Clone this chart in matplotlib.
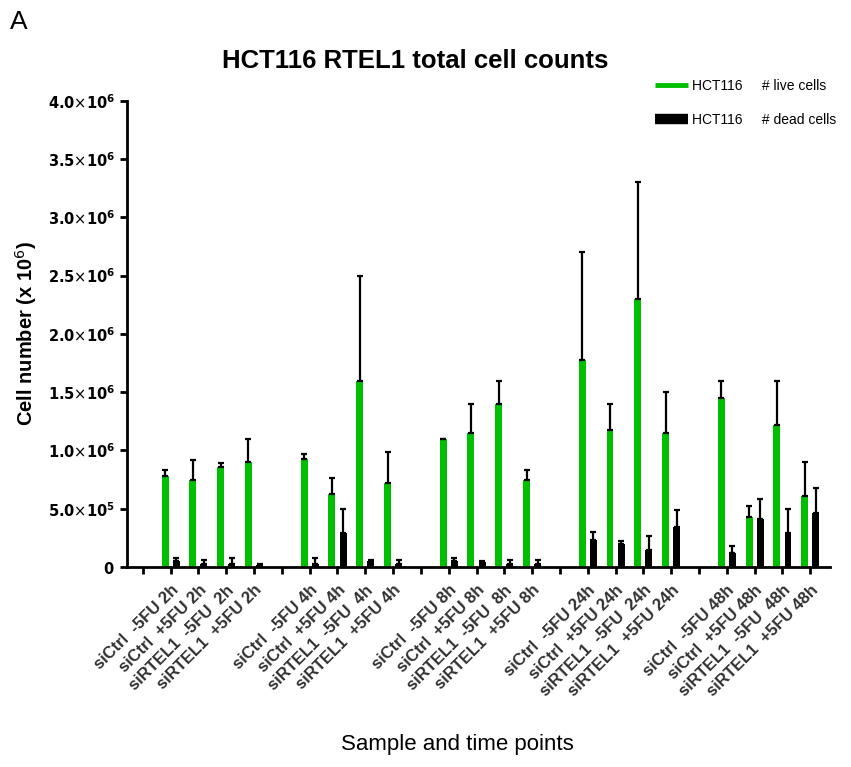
import numpy as np
import matplotlib
matplotlib.use("Agg")
from matplotlib import pyplot as plt
from matplotlib.ticker import FuncFormatter
from matplotlib.lines import Line2D

plt.rcParams['font.family'] = ['Liberation Sans', 'DejaVu Sans']

# samples, one blank slot before every time point
times = ["2h", "4h", "8h", "24h", "48h"]
samples = ["siCtrl  -5FU ", "siCtrl  +5FU ", "siRTEL1  -5FU  ", "siRTEL1  +5FU "]

# live cells (x 10^6) and upper SD, in sample order for each time point
live = [0.78, 0.75, 0.86, 0.90,
        0.93, 0.63, 1.60, 0.72,
        1.095, 1.15, 1.40, 0.75,
        1.775, 1.175, 2.30, 1.15,
        1.45, 0.43, 1.22, 0.61]
live_top = [0.83, 0.92, 0.89, 1.10,
            0.97, 0.76, 2.50, 0.99,
            1.095, 1.40, 1.60, 0.83,
            2.70, 1.40, 3.305, 1.50,
            1.60, 0.525, 1.60, 0.90]

# dead cells
dead = [0.05, 0.03, 0.03, 0.02,
        0.03, 0.29, 0.05, 0.03,
        0.05, 0.045, 0.03, 0.03,
        0.23, 0.195, 0.146, 0.34,
        0.117, 0.41, 0.29, 0.46]
dead_top = [0.077, 0.06, 0.075, 0.03,
            0.077, 0.50, 0.06, 0.06,
            0.08, 0.05, 0.06, 0.06,
            0.30, 0.225, 0.266, 0.49,
            0.18, 0.58, 0.50, 0.675]

labels = []
pos = []
for t, tp in enumerate(times):
    labels.append("")
    for s, sm in enumerate(samples):
        labels.append(sm + tp)
        pos.append(t * 5 + s + 1)
pos = np.array(pos)

live = np.array(live) * 1e6
live_err = np.array(live_top) * 1e6 - live
dead = np.array(dead) * 1e6
dead_err = np.array(dead_top) * 1e6 - dead

fig = plt.figure(figsize=(8.51, 7.67), dpi=100)
ax = fig.add_axes([0.149, 0.2607, 0.826, 0.608])

green = '#00bf00'
w = 0.25
ax.bar(pos - 0.2, live, w, color=green, zorder=2)
ax.bar(pos + 0.2, dead, w, color='black', zorder=2)
ax.errorbar(pos - 0.2, live, yerr=[np.zeros_like(live), live_err], fmt='none',
            ecolor='black', elinewidth=1.6, capsize=2.5, capthick=1.6, zorder=3)
ax.errorbar(pos + 0.2, dead, yerr=[np.zeros_like(dead), dead_err], fmt='none',
            ecolor='black', elinewidth=1.6, capsize=2.5, capthick=1.6, zorder=3)

ax.set_xlim(-0.575, 24.7)
ax.set_ylim(0, 4e6)
ax.set_yticks(np.arange(0, 4.01e6, 0.5e6))


def fmt(v, p):
    if v == 0:
        return r"$\mathbf{0}$"
    e = int(np.floor(np.log10(v)))
    m = v / 10 ** e
    return r"$\mathbf{%.1f}{\times}\mathbf{10^{%d}}$" % (m, e)


ax.yaxis.set_major_formatter(FuncFormatter(fmt))
ax.set_xticks(range(25))
ax.set_xticklabels(labels, rotation=45, ha='right', rotation_mode='anchor',
                   fontsize=12, fontweight='bold', color='#303030')

for sp in ['top', 'right']:
    ax.spines[sp].set_visible(False)
for sp in ['left', 'bottom']:
    ax.spines[sp].set_linewidth(2)
ax.tick_params(axis='both', width=2, length=5, direction='out')
ax.tick_params(axis='y', labelsize=10.5)
ax.tick_params(axis='x', pad=6)

ax.set_ylabel("Cell number (x 10$^6$)", fontsize=14.5, fontweight='bold', labelpad=6)
fig.text(0.537, 0.029, "Sample and time points", fontsize=16, ha='center', va='center')
fig.text(0.488, 0.921, "HCT116 RTEL1 total cell counts", fontsize=18.5,
         fontweight='bold', ha='center', va='center')
fig.text(0.012, 0.962, "A", fontsize=19)

handles = [Line2D([], [], color=green, lw=3.5, solid_capstyle='butt'),
           Line2D([], [], color='black', lw=7.5, solid_capstyle='butt')]
fig.legend(handles, ["HCT116     # live cells", "HCT116     # dead cells"],
           loc='upper left', bbox_to_anchor=(0.7697, 0.897), frameon=False,
           borderpad=0, borderaxespad=0, handlelength=2.4, labelspacing=1.45,
           handletextpad=0.25, prop={'size': 10})

fig.savefig("out.png", dpi=100)
